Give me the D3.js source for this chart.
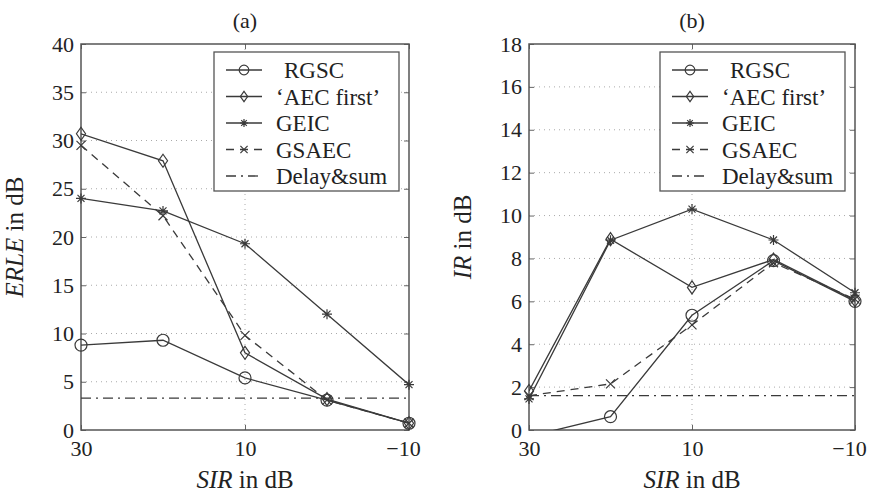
<!DOCTYPE html>
<html>
<head>
<meta charset="utf-8">
<script src="https://cdn.jsdelivr.net/npm/d3@7"></script>
<style>
  body { margin: 0; background: #fff; }
  text { font-family: "Liberation Serif", "DejaVu Serif", serif; fill: #222; }
</style>
</head>
<body>
<div id="chart"></div>
<script>
// SIR values (dB) on the x axis
var sir = [30, 20, 10, 0, -10];
var seriesNames = ["RGSC", "\u2018AEC first\u2019", "GEIC", "GSAEC", "Delay&sum"];
var markers = ["circle", "diamond", "star", "cross", "none"];

// (a) ERLE in dB
var erleRGSC = [8.8, 9.3, 5.4, 3.1, 0.7];
var erleAEC = [30.7, 27.9, 8.0, 3.2, 0.7];
var erleGEIC = [24.0, 22.7, 19.3, 12.0, 4.7];
var erleGSAEC = [29.5, 22.2, 9.8, 3.1, 0.7];
var erleDS = [3.3, 3.3, 3.3, 3.3, 3.3];

// (b) IR in dB
var irRGSC = [-0.3, 0.62, 5.35, 7.9, 6.0];
var irAEC = [1.82, 8.9, 6.65, 7.95, 6.05];
var irGEIC = [1.45, 8.85, 10.3, 8.86, 6.4];
var irGSAEC = [1.6, 2.15, 4.9, 7.8, 6.1];
var irDS = [1.6, 1.6, 1.6, 1.6, 1.6];

var xTicks = [30, 10, -10];
var erleTicks = [0, 5, 10, 15, 20, 25, 30, 35, 40];
var irTicks = [0, 2, 4, 6, 8, 10, 12, 14, 16, 18];

var svg = d3.select("#chart").append("svg")
  .attr("width", 871).attr("height", 498);

var ink = "#3a3a3a";

function panel(opt) {
  var g = svg.append("g").attr("transform", "translate(" + opt.left + "," + opt.top + ")");
  var w = opt.width, h = opt.height;
  var x = d3.scaleLinear().domain([30, -10]).range([0, w]);
  var y = d3.scaleLinear().domain([0, opt.ymax]).range([h, 0]);

  var clipId = "clip" + opt.id;
  g.append("clipPath").attr("id", clipId)
    .append("rect").attr("width", w).attr("height", h);

  // grid
  g.selectAll(".hg").data(opt.yTicks.slice(1, -1)).join("line")
    .attr("x1", 0).attr("x2", w)
    .attr("y1", d => y(d)).attr("y2", d => y(d))
    .attr("stroke", "#aaa").attr("stroke-dasharray", "1,4");
  g.selectAll(".vg").data(xTicks.slice(1, -1)).join("line")
    .attr("y1", 0).attr("y2", h)
    .attr("x1", d => x(d)).attr("x2", d => x(d))
    .attr("stroke", "#aaa").attr("stroke-dasharray", "1,4");

  // axes (ticks inside)
  var yl = g.append("g").call(d3.axisLeft(y).tickValues(opt.yTicks).tickSize(-5).tickPadding(7));
  var yr = g.append("g").attr("transform", "translate(" + w + ",0)")
    .call(d3.axisRight(y).tickValues(opt.yTicks).tickSize(-5).tickFormat(""));
  var xb = g.append("g").attr("transform", "translate(0," + h + ")")
    .call(d3.axisBottom(x).tickValues(xTicks).tickSize(-5).tickPadding(10)
      .tickFormat(d => d < 0 ? "\u2212" + (-d) : d));
  var xt = g.append("g")
    .call(d3.axisTop(x).tickValues(xTicks).tickSize(-5).tickFormat(""));
  [yl, yr, xb, xt].forEach(function(a) {
    a.select(".domain").remove();
    a.selectAll("line").attr("stroke", "#666");
    a.selectAll("text").style("font-size", "22px")
      .style("font-family", "'Liberation Serif', serif").attr("fill", "#222");
  });
  xb.selectAll("text").attr("dx", d => d < 0 ? -6 : 0);
  g.append("rect").attr("width", w).attr("height", h)
    .attr("fill", "none").attr("stroke", "#555").attr("stroke-width", 1.5);

  var line = d3.line().x((d, i) => x(sir[i])).y(d => y(d));
  var dashes = [null, null, null, "8,6", "10,5,2,5"];
  var plot = g.append("g").attr("clip-path", "url(#" + clipId + ")");
  opt.series.forEach(function(s, k) {
    plot.append("path").datum(s).attr("d", line)
      .attr("fill", "none").attr("stroke", ink).attr("stroke-width", 1.3)
      .attr("stroke-dasharray", dashes[k]);
  });
  opt.series.forEach(function(s, k) {
    if (markers[k] === "none") return;
    s.forEach(function(v, i) {
      if (v < 0) return;
      drawMarker(g, markers[k], x(sir[i]), y(v));
    });
  });

  // title
  g.append("text").attr("x", w / 2).attr("y", -16).attr("text-anchor", "middle")
    .style("font-size", "22px").text(opt.title);
  // x label
  var xl = g.append("text").attr("x", w / 2).attr("y", h + 58).attr("text-anchor", "middle")
    .style("font-size", "25px");
  xl.append("tspan").style("font-style", "italic").text("SIR");
  xl.append("tspan").text(" in dB");
  // y label
  var ylab = g.append("text").attr("transform", "translate(" + opt.ylabX + "," + (h / 2) + ") rotate(-90)")
    .attr("text-anchor", "middle").style("font-size", "25px");
  ylab.append("tspan").style("font-style", "italic").text(opt.yname);
  ylab.append("tspan").text(" in dB");

  // legend
  var lg = g.append("g").attr("transform", "translate(" + (w - 195) + ",8)");
  lg.append("rect").attr("width", 185).attr("height", 139)
    .attr("fill", "#fff").attr("stroke", "#555").attr("stroke-width", 1.3);
  seriesNames.forEach(function(name, k) {
    var yy = 18 + k * 26.5;
    lg.append("line").attr("x1", 12).attr("x2", 48).attr("y1", yy).attr("y2", yy)
      .attr("stroke", ink).attr("stroke-width", 1.3).attr("stroke-dasharray", dashes[k]);
    if (markers[k] !== "none") drawMarker(lg, markers[k], 30, yy, 0.8);
    lg.append("text").attr("x", k === 0 ? 70 : 62).attr("y", yy + 8)
      .style("font-size", "23px").text(name);
  });
}

function drawMarker(g, type, cx, cy, sc) {
  sc = sc || 1;
  var st = { stroke: ink, "stroke-width": 1.2, fill: "none" };
  var el;
  if (type === "circle") {
    el = g.append("circle").attr("cx", cx).attr("cy", cy).attr("r", 6 * sc);
  } else if (type === "diamond") {
    var r = 6.5 * sc;
    el = g.append("path").attr("d", "M" + cx + "," + (cy - r) + "L" + (cx + r * 0.7) + "," + cy +
      "L" + cx + "," + (cy + r) + "L" + (cx - r * 0.7) + "," + cy + "Z");
  } else if (type === "star") {
    var s = 5 * sc, d = s * 0.7;
    el = g.append("path").attr("d", "M" + (cx - s) + "," + cy + "h" + 2 * s +
      "M" + cx + "," + (cy - s) + "v" + 2 * s +
      "M" + (cx - d) + "," + (cy - d) + "l" + 2 * d + "," + 2 * d +
      "M" + (cx - d) + "," + (cy + d) + "l" + 2 * d + "," + (-2 * d));
  } else if (type === "cross") {
    var c = 4.5 * sc;
    el = g.append("path").attr("d", "M" + (cx - c) + "," + (cy - c) + "l" + 2 * c + "," + 2 * c +
      "M" + (cx - c) + "," + (cy + c) + "l" + 2 * c + "," + (-2 * c));
  }
  Object.keys(st).forEach(k => el.attr(k, st[k]));
}

panel({ id: "a", left: 81, top: 44, width: 328, height: 386, ymax: 40, yTicks: erleTicks,
  series: [erleRGSC, erleAEC, erleGEIC, erleGSAEC, erleDS], title: "(a)", yname: "ERLE", ylabX: -58 });
panel({ id: "b", left: 529, top: 44, width: 326, height: 386, ymax: 18, yTicks: irTicks,
  series: [irRGSC, irAEC, irGEIC, irGSAEC, irDS], title: "(b)", yname: "IR", ylabX: -58 });
</script>
</body>
</html>
